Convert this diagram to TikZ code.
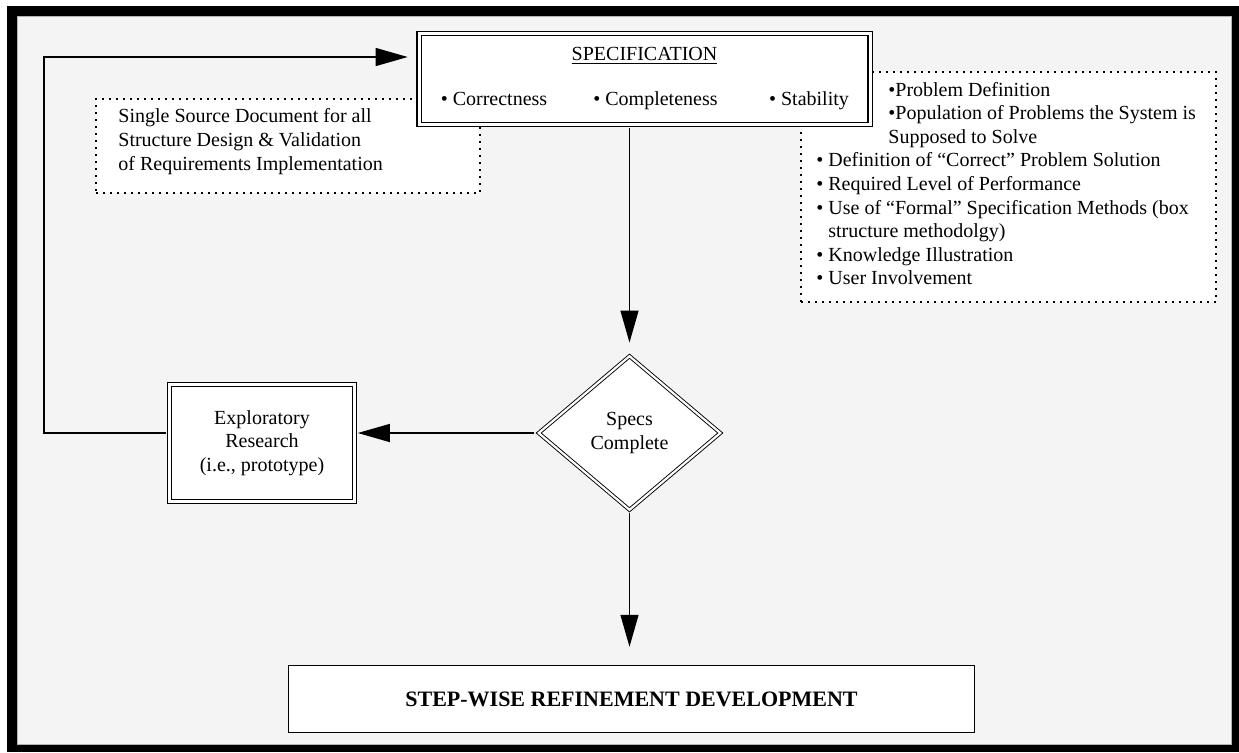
\documentclass[tikz,border=0pt]{standalone}
\usepackage{fontspec}
\setmainfont{Liberation Serif}
\usetikzlibrary{shapes.geometric,arrows.meta}
\definecolor{panel}{HTML}{F4F4F4}

\begin{document}
\begin{tikzpicture}[x=0.5pt,y=-0.5pt,
  dbl/.style={draw=black, line width=0.6pt, double=white, double distance=1.5pt,
              fill=white, inner sep=0},
  thindbl/.style={dbl, line width=0.45pt, double distance=1.1pt},
  note/.style={draw=black, fill=white, line width=0.8pt,
               dash pattern=on 0.8pt off 2.7pt, inner sep=0},
  flow/.style={draw=black, line width=0.65pt, -{Triangle[length=16pt,width=9pt]}},
  txt/.style={font=\fontsize{10}{12}\selectfont, inner sep=0},
]
\useasboundingbox (0,0) rectangle (1239,752);

% page, heavy frame and panel
\fill[white] (0,0) rectangle (1239,752);
\fill[black] (7,6) rectangle (1239,752);
\filldraw[fill=panel, draw=gray!60, line width=0.4pt] (17,16) rectangle (1231,744);

% dotted annotation boxes (drawn first, the specification box overlaps them)
\node[note, minimum width=192pt, minimum height=47pt] (srcnote) at (288,146) {};
\node[txt, anchor=west, align=left] (srctext) at (118,142)
  {Single Source Document for all\\Structure Design \& Validation\\of Requirements Implementation};

\node[note, minimum width=207.5pt, minimum height=115pt] (reqnote) at (1008.5,187) {};
\node[txt, font=\fontsize{10}{11.8}\selectfont, anchor=west, align=left] (reqtext) at (816,183.5)
  {\hspace*{36pt}•Problem Definition\\
   \hspace*{36pt}•Population of Problems the System is\\
   \hspace*{36pt}Supposed to Solve\\
   • Definition of “Correct” Problem Solution\\
   • Required Level of Performance\\
   • Use of “Formal” Specification Methods (box\\
   \hspace*{6pt}structure methodolgy)\\
   • Knowledge Illustration\\
   • User Involvement};

% specification box
\node[dbl, minimum width=225.5pt, minimum height=45.5pt] (spec) at (644.5,79) {};
\node[txt, anchor=base] (spectitle) at (644.5,60) {\underline{SPECIFICATION}};
\node[txt, anchor=base] (correct) at (494,105) {• Correctness};
\node[txt, anchor=base] (complete) at (655.5,105) {• Completeness};
\node[txt, anchor=base] (stable) at (809,105) {• Stability};

% decision
\node[thindbl, diamond, minimum width=91pt, minimum height=77pt, align=center,
      font=\fontsize{10}{11.7}\selectfont] (specs) at (629.5,433) {Specs\\Complete};

% exploratory research
\node[dbl, minimum width=92.5pt, minimum height=58.5pt, align=center,
      font=\fontsize{10}{11.75}\selectfont] (explore) at (262,443)
  {Exploratory\\Research\\(i.e., prototype)};

% final step
\node[draw=black, line width=0.75pt, fill=white, minimum width=343pt, minimum height=33.5pt,
      font=\bfseries\fontsize{11}{13}\selectfont] (refine) at (631.5,699)
  {STEP-WISE REFINEMENT DEVELOPMENT};

% loop corners
\coordinate (loopbot) at (44,433);
\coordinate (looptop) at (44,57);

% connectors
\draw[flow, shorten <=1.35pt, shorten >=6.5pt] (spec.south -| specs.north) -- (specs.north);
\draw[flow, shorten <=1.5pt, shorten >=9pt] (specs.south) -- (specs.south |- refine.north);
\draw[flow, shorten <=1.8pt, shorten >=1.35pt] (specs.west) -- (specs.west -| explore.east);
\draw[flow, shorten <=1.35pt, shorten >=5.35pt]
  (explore.west |- specs.west) -- (loopbot) -- (looptop) -- (looptop -| spec.west);
\end{tikzpicture}
\end{document}
